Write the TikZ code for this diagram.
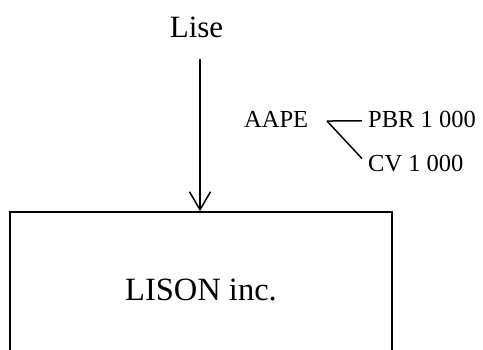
\documentclass[tikz,border=0pt]{standalone}
\usepackage{fontspec}
\setmainfont{Liberation Serif}
\usetikzlibrary{arrows.meta}
\tikzset{
	big/.style = {font=\fontsize{31}{36}\selectfont},
	small/.style = {font=\fontsize{24.5}{29}\selectfont, inner sep=6pt},
	ligne/.style = {line width=1.5pt}
}
\begin{document}
\begin{tikzpicture} [x=1pt, y=-1pt]
	\clip (0,0) rectangle (483,349);
	\node [big, anchor=base] (lise) at (196.5,37) {Lise};
	\node [draw, ligne, minimum width=382pt, minimum height=156pt, font=\fontsize{32.5}{38}\selectfont] (lison) at (201,290) {LISON inc.};
	\coordinate (debut) at (200,59);
	\draw [ligne, -{Straight Barb[length=18pt, width=21pt, line width=1.5pt]}] (debut) -- (debut |- lison.north);
	\node [small, anchor=base west, inner sep=0pt] (aape) at (244,127) {AAPE};
	\node [small, anchor=base west, xshift=-6pt] (pbr) at (368,127) {PBR 1 000};
	\node [small, anchor=base west, xshift=-6pt] (cv) at (368,171) {CV 1 000};
	\coordinate (fourche) at (327,121);
	\draw [ligne] (fourche) -- ([yshift=-2pt]pbr.west);
	\draw [ligne] (fourche) -- ([yshift=4.5pt]cv.west);
\end{tikzpicture}
\end{document}
